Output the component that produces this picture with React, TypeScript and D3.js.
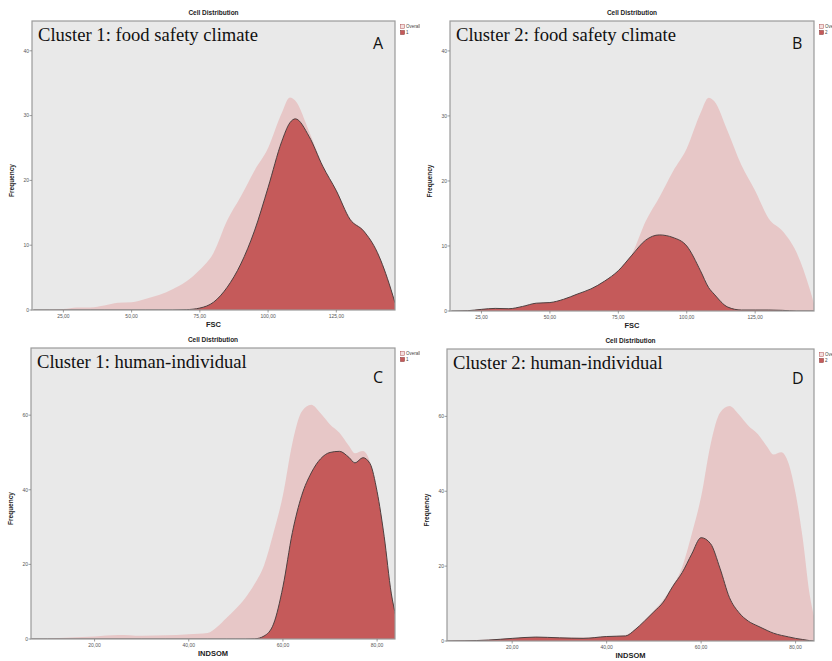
import React from 'react';
import * as d3 from 'd3';

// FSC (food safety climate) density grid and curves
const fscX = [14, 20, 25, 30, 35, 40, 45, 50, 55, 60, 65, 70, 75, 80, 85, 90, 95, 100, 105, 108, 110, 115, 120, 125, 130, 135, 140, 145, 146.5];
const overallFsc = [0, 0.05, 0.15, 0.4, 0.4, 0.7, 1.1, 1.2, 1.7, 2.3, 3.2, 4.4, 6.2, 8.8, 13.8, 17.5, 21.5, 25, 30.4, 32.8, 32.3, 27.6, 22.4, 18.5, 14.2, 12.3, 9.1, 3.3, 1.1];
const cluster1Fsc = [0, 0, 0, 0, 0, 0, 0, 0, 0, 0, 0, 0.05, 0.3, 1.2, 3.5, 7.1, 12.2, 18.9, 26, 28.9, 29.5, 26.8, 22.2, 18.4, 14, 12.2, 8.9, 3.2, 1.1];
const cluster2Fsc = [0, 0.05, 0.25, 0.4, 0.35, 0.7, 1.2, 1.3, 1.8, 2.6, 3.4, 4.6, 6.2, 8.6, 10.9, 11.7, 11.3, 10.0, 6.2, 3.6, 2.6, 0.6, 0.15, 0.15, 0.15, 0.1, 0, 0, 0];

// INDSOM (human-individual) density grid and curves
const indsomX = [6, 10, 15, 20, 25, 30, 35, 40, 44, 46, 48, 50, 52, 54, 56, 58, 60, 62, 64, 66, 68, 70, 72, 74, 75.3, 77, 78.5, 80, 81.5, 83, 84];
const overallIndsom = [0, 0.1, 0.4, 0.7, 1.1, 0.9, 1.0, 1.3, 1.6, 3.2, 5.6, 8.1, 11, 14.8, 19.8, 28.5, 38.5, 52.5, 61, 62.8, 60.5, 57.5, 55.3, 51.8, 49.8, 50.4, 47.5, 39.5, 27.5, 12.3, 6];
const cluster1Indsom = [0, 0, 0, 0, 0, 0, 0, 0, 0, 0, 0, 0, 0, 0.05, 0.8, 4, 14, 28.5, 38.5, 44.5, 48.3, 50, 50.3, 48.7, 47.2, 48.6, 47, 39.5, 27.5, 12.3, 6];
const cluster2Indsom = [0, 0.05, 0.25, 0.7, 1.05, 0.85, 0.7, 1.2, 1.35, 3.0, 5.3, 7.8, 10.4, 14.6, 18.3, 23.2, 27.6, 26, 19.4, 11.6, 7.6, 5.3, 4.0, 2.8, 2.1, 1.5, 1.1, 0.7, 0.4, 0.1, 0];

const fscTicks = [25, 50, 75, 100, 125];
const indsomTicks = [20, 40, 60, 80];
const fscFreqTicks = [0, 10, 20, 30, 40];
const indsomFreqTicks = [0, 20, 40, 60];

const panelTitles = ['Cluster 1: food safety climate', 'Cluster 2: food safety climate', 'Cluster 1: human-individual', 'Cluster 2: human-individual'];
const panelLetters = ['A', 'B', 'C', 'D'];
const clusterNames = ['1', '2', '1', '2'];

const fmt = (v: number) => d3.format('.2f')(v).replace('.', ',');

type PanelProps = {
  id: number;
  box: { x0: number; x1: number; y0: number; y1: number };
  cell: [number, number];
  xDomain: [number, number];
  yMax: number;
  xs: number[];
  overall: number[];
  cluster: number[];
  xTicks: number[];
  yTicks: number[];
  xLabel: string;
};

function Panel(p: PanelProps) {
  const { box } = p;
  const x = d3.scaleLinear().domain(p.xDomain).range([box.x0, box.x1]);
  const y = d3.scaleLinear().domain([0, p.yMax]).range([box.y1, box.y0]);
  const pts = (vals: number[]) => p.xs.map((v, i) => [v, vals[i]] as [number, number]);
  const area = d3.area<[number, number]>().x(d => x(d[0])).y0(box.y1).y1(d => y(d[1])).curve(d3.curveMonotoneX);
  const line = d3.line<[number, number]>().x(d => x(d[0])).y(d => y(d[1])).curve(d3.curveMonotoneX);
  const cx = (box.x0 + box.x1) / 2;
  const clipId = `plot-${p.id}`;
  const cellId = `cell-${p.id}`;
  return (
    <g>
      <defs>
        <clipPath id={clipId}>
          <rect x={box.x0} y={box.y0} width={box.x1 - box.x0} height={box.y1 - box.y0} />
        </clipPath>
        <clipPath id={cellId}>
          <rect x={p.cell[0]} y={0} width={p.cell[1] - p.cell[0]} height={661} />
        </clipPath>
      </defs>
      <text x={cx} y={box.y0 - 6} textAnchor="middle" fontFamily="Liberation Sans" fontWeight="bold" fontSize={6.5} fill="#222">Cell Distribution</text>
      <rect x={box.x0} y={box.y0} width={box.x1 - box.x0} height={box.y1 - box.y0} fill="#e9e9e9" />
      <g clipPath={`url(#${clipId})`}>
        <path d={area(pts(p.overall)) ?? ''} fill="#e7c7c7" />
        <path d={area(pts(p.cluster)) ?? ''} fill="#c55a5a" />
        <path d={line(pts(p.cluster)) ?? ''} fill="none" stroke="#4e4040" strokeWidth={1} />
      </g>
      <rect x={box.x0} y={box.y0} width={box.x1 - box.x0} height={box.y1 - box.y0} fill="none" stroke="#9a9a9a" strokeWidth={1.2} />
      {p.yTicks.map(t => (
        <g key={t}>
          <line x1={box.x0 - 2.5} x2={box.x0} y1={y(t)} y2={y(t)} stroke="#777" strokeWidth={0.7} />
          <text x={box.x0 - 3} y={y(t) + 1.8} textAnchor="end" fontFamily="Liberation Sans" fontSize={5} fill="#555">{t}</text>
        </g>
      ))}
      {p.xTicks.map(t => (
        <g key={t}>
          <line x1={x(t)} x2={x(t)} y1={box.y1} y2={box.y1 + 2.5} stroke="#777" strokeWidth={0.7} />
          <text x={x(t)} y={box.y1 + 8} textAnchor="middle" fontFamily="Liberation Sans" fontSize={5} fill="#555">{fmt(t)}</text>
        </g>
      ))}
      <text x={cx} y={box.y1 + 17} textAnchor="middle" fontFamily="Liberation Sans" fontWeight="bold" fontSize={7.5} fill="#222">{p.xLabel}</text>
      <text transform={`translate(${box.x0 - 18},${(box.y0 + box.y1) / 2 + 15}) rotate(-90)`} textAnchor="middle" fontFamily="Liberation Sans" fontWeight="bold" fontSize={6.5} fill="#222">Frequency</text>
      <text x={box.x0 + 6} y={box.y0 + 20} fontFamily="Liberation Serif" fontSize={18.6} fill="#111">{panelTitles[p.id]}</text>
      <text x={box.x1 - 22} y={box.y0 + (p.id < 2 ? 28 : 35)} fontFamily="Open Sans" fontSize={16} fill="#111">{panelLetters[p.id]}</text>
      <g clipPath={`url(#${cellId})`}>
        <rect x={box.x1 + 5.5} y={box.y0 + 3.5} width={4} height={4} fill="#f2dede" stroke="#b05050" strokeWidth={0.5} />
        <text x={box.x1 + 11} y={box.y0 + 7.3} fontFamily="Liberation Sans" fontSize={4.5} fill="#444">Overall</text>
        <rect x={box.x1 + 5.5} y={box.y0 + 9.5} width={4} height={4} fill="#c55a5a" stroke="#803030" strokeWidth={0.5} />
        <text x={box.x1 + 11} y={box.y0 + 13.3} fontFamily="Liberation Sans" fontSize={4.5} fill="#444">{clusterNames[p.id]}</text>
      </g>
    </g>
  );
}

export default function App() {
  return (
    <svg width={832} height={661} style={{ position: 'absolute', left: 0, top: 0 }}>
      <rect width={832} height={661} fill="#ffffff" />
      <Panel id={0} box={{ x0: 32, x1: 395, y0: 21, y1: 310 }} cell={[0, 420]} xDomain={[13.5, 146.5]} yMax={44.6}
        xs={fscX} overall={overallFsc} cluster={cluster1Fsc} xTicks={fscTicks} yTicks={fscFreqTicks} xLabel="FSC" />
      <Panel id={1} box={{ x0: 450, x1: 814, y0: 21, y1: 311 }} cell={[420, 832]} xDomain={[13.5, 146.5]} yMax={44.6}
        xs={fscX} overall={overallFsc} cluster={cluster2Fsc} xTicks={fscTicks} yTicks={fscFreqTicks} xLabel="FSC" />
      <Panel id={2} box={{ x0: 31, x1: 395, y0: 348, y1: 639 }} cell={[0, 420]} xDomain={[6.5, 83.8]} yMax={78}
        xs={indsomX} overall={overallIndsom} cluster={cluster1Indsom} xTicks={indsomTicks} yTicks={indsomFreqTicks} xLabel="INDSOM" />
      <Panel id={3} box={{ x0: 447, x1: 814, y0: 349, y1: 641 }} cell={[420, 832]} xDomain={[6.2, 83.9]} yMax={78}
        xs={indsomX} overall={overallIndsom} cluster={cluster2Indsom} xTicks={indsomTicks} yTicks={indsomFreqTicks} xLabel="INDSOM" />
    </svg>
  );
}
